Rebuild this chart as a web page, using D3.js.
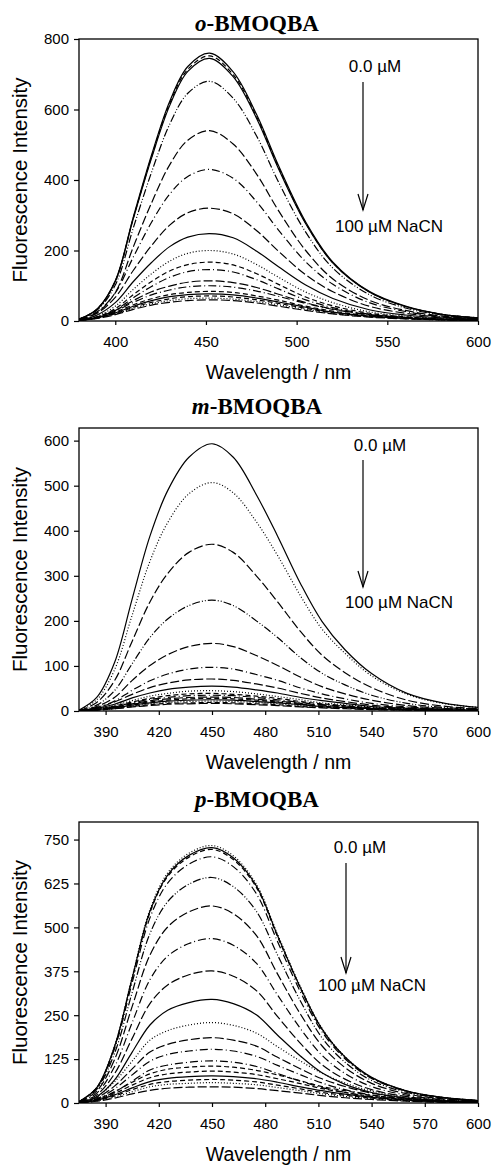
<!DOCTYPE html>
<html>
<head>
<meta charset="utf-8">
<script src="https://cdnjs.cloudflare.com/ajax/libs/d3/7.8.5/d3.min.js"></script>
<style>
  body { margin: 0; background: #fff; }
  svg text { font-family: "Liberation Sans", Arial, sans-serif; fill: #000; }
</style>
</head>
<body>
<div id="vis"></div>
<script>

// ---- o-BMOQBA ----
var oWavelengths = [380, 390, 400, 410, 420, 430, 440, 452, 465, 478, 490, 505, 520, 540, 560, 580, 600];
var oSpectra = [
  [5, 34, 114, 296, 471, 623, 722, 760, 707, 585, 441, 281, 167, 84, 42, 19, 9],
  [5, 34, 113, 293, 466, 617, 714, 752, 699, 579, 436, 278, 165, 83, 41, 19, 9],
  [5, 33, 112, 291, 462, 611, 708, 745, 693, 574, 432, 276, 164, 82, 41, 19, 9],
  [5, 31, 102, 265, 422, 558, 646, 680, 632, 524, 394, 252, 150, 75, 37, 17, 8],
  [4, 24, 81, 211, 335, 443, 513, 540, 502, 416, 313, 200, 119, 59, 30, 14, 6],
  [4, 26, 80, 182, 280, 360, 410, 430, 405, 338, 258, 168, 104, 52, 27, 12, 7],
  [3, 22, 67, 144, 214, 272, 307, 320, 304, 256, 198, 131, 83, 42, 22, 11, 6],
  [2, 17, 52, 112, 166, 211, 238, 248, 236, 198, 154, 102, 64, 32, 17, 9, 5],
  [2, 14, 42, 90, 134, 170, 192, 200, 190, 160, 124, 82, 52, 26, 14, 7, 4],
  [2, 12, 35, 75, 112, 142, 160, 167, 159, 134, 104, 68, 43, 22, 12, 6, 3],
  [1, 10, 31, 66, 98, 124, 140, 146, 139, 117, 91, 60, 38, 19, 10, 5, 3],
  [2, 11, 30, 58, 83, 99, 110, 114, 109, 95, 76, 52, 34, 18, 10, 5, 3],
  [2, 11, 28, 53, 74, 88, 97, 100, 96, 85, 70, 50, 33, 18, 10, 5, 3],
  [2, 10, 25, 46, 63, 75, 81, 84, 81, 71, 59, 42, 28, 15, 8, 4, 3],
  [2, 9, 23, 42, 58, 69, 75, 77, 74, 65, 54, 39, 25, 14, 8, 4, 2],
  [1, 9, 21, 39, 53, 63, 69, 71, 68, 60, 50, 36, 23, 13, 7, 4, 2],
  [1, 8, 20, 36, 49, 58, 63, 65, 62, 55, 46, 33, 21, 12, 7, 3, 2],
  [1, 7, 18, 33, 45, 53, 58, 60, 58, 51, 42, 30, 20, 11, 6, 3, 2]
];
var oStyles = ['solid', 'dash', 'solid', 'dashdotdot', 'longdash', 'dashdot', 'longdash', 'solid', 'dot',
  'dash', 'dashdot', 'longdash', 'dashdot', 'dash', 'solid', 'dash', 'dot', 'longdash'];
var oXTicks = [400, 450, 500, 550, 600];
var oYTicks = [0, 200, 400, 600, 800];

// ---- m-BMOQBA ----
var mWavelengths = [375, 385, 395, 405, 415, 425, 437, 450, 462, 475, 487, 500, 512, 525, 540, 560, 580, 600];
var mSpectra = [
  [2, 30, 107, 249, 388, 489, 563, 593, 563, 480, 388, 282, 199, 136, 83, 39, 18, 8],
  [2, 25, 91, 213, 332, 418, 482, 507, 484, 420, 345, 255, 182, 128, 78, 37, 17, 8],
  [1, 19, 67, 155, 242, 305, 352, 370, 352, 300, 242, 176, 124, 85, 52, 24, 11, 5],
  [1, 13, 45, 105, 163, 204, 234, 246, 234, 200, 163, 118, 84, 58, 35, 17, 8, 4],
  [1, 10, 30, 68, 101, 125, 143, 150, 143, 123, 101, 75, 54, 38, 24, 12, 6, 3],
  [1, 8, 22, 46, 67, 82, 93, 97, 93, 81, 68, 51, 38, 27, 17, 9, 5, 3],
  [1, 7, 20, 37, 52, 62, 69, 71, 68, 60, 51, 39, 29, 21, 13, 7, 4, 2],
  [1, 6, 15, 29, 40, 48, 53, 55, 53, 47, 40, 30, 23, 17, 10, 6, 3, 2],
  [0, 5, 13, 23, 33, 39, 44, 45, 43, 38, 32, 25, 18, 14, 9, 5, 2, 1],
  [0, 4, 11, 20, 28, 34, 38, 39, 37, 33, 28, 21, 16, 12, 7, 4, 2, 1],
  [0, 4, 10, 18, 26, 30, 34, 35, 34, 30, 25, 19, 14, 11, 7, 4, 2, 1],
  [0, 3, 9, 16, 23, 27, 30, 31, 30, 26, 22, 17, 13, 9, 6, 3, 2, 1],
  [0, 3, 8, 15, 20, 24, 27, 28, 27, 24, 20, 15, 11, 8, 5, 3, 1, 1],
  [0, 3, 7, 13, 18, 22, 24, 25, 24, 21, 18, 14, 10, 8, 5, 3, 1, 1],
  [0, 2, 6, 11, 16, 19, 21, 22, 21, 19, 16, 12, 9, 7, 4, 2, 1, 1],
  [0, 2, 5, 10, 14, 17, 18, 19, 18, 16, 14, 10, 8, 6, 4, 2, 1, 1],
  [0, 2, 5, 9, 12, 15, 16, 17, 16, 14, 12, 9, 7, 5, 3, 2, 1, 0]
];
var mStyles = ['solid', 'dot', 'longdash', 'dashdotdot', 'longdash', 'dashdot', 'longdash', 'solid', 'dot',
  'dash', 'dashdot', 'longdash', 'dash', 'solid', 'dot', 'dash', 'longdash'];
var mXTicks = [390, 420, 450, 480, 510, 540, 570, 600];
var mYTicks = [0, 100, 200, 300, 400, 500, 600];

// ---- p-BMOQBA ----
var pWavelengths = [375, 385, 395, 405, 415, 425, 437, 450, 462, 475, 487, 500, 512, 525, 540, 560, 580, 600];
var pSpectra = [
  [4, 44, 161, 359, 550, 655, 711, 733, 704, 623, 480, 330, 213, 132, 73, 34, 16, 7],
  [4, 44, 160, 356, 546, 649, 705, 727, 698, 618, 476, 327, 211, 131, 73, 34, 16, 7],
  [4, 43, 159, 354, 542, 645, 700, 722, 693, 614, 473, 325, 209, 130, 72, 34, 16, 7],
  [4, 42, 154, 343, 527, 626, 680, 701, 673, 596, 459, 315, 203, 126, 70, 33, 15, 7],
  [3, 39, 141, 315, 482, 573, 623, 642, 616, 546, 421, 289, 186, 116, 64, 30, 14, 6],
  [3, 34, 123, 275, 421, 501, 544, 561, 539, 477, 367, 252, 163, 101, 56, 26, 12, 6],
  [2, 28, 103, 229, 351, 418, 454, 468, 449, 398, 307, 211, 136, 84, 47, 22, 10, 5],
  [2, 23, 83, 184, 283, 336, 365, 376, 361, 320, 246, 169, 109, 68, 38, 18, 8, 4],
  [2, 18, 65, 145, 222, 264, 286, 295, 283, 251, 193, 133, 86, 53, 30, 14, 6, 3],
  [2, 18, 60, 119, 179, 206, 222, 229, 221, 199, 160, 119, 85, 57, 34, 17, 8, 4],
  [1, 15, 48, 97, 145, 167, 180, 186, 179, 162, 130, 97, 69, 47, 28, 14, 7, 3],
  [1, 12, 40, 80, 119, 138, 148, 153, 148, 133, 107, 80, 57, 38, 23, 11, 5, 3],
  [1, 10, 31, 62, 94, 108, 116, 120, 116, 104, 84, 62, 44, 30, 18, 9, 4, 2],
  [1, 11, 32, 59, 83, 96, 102, 105, 102, 93, 80, 63, 47, 35, 22, 12, 5, 3],
  [1, 9, 27, 51, 72, 83, 88, 91, 88, 81, 69, 55, 41, 30, 19, 10, 5, 2],
  [1, 8, 23, 43, 61, 70, 75, 77, 75, 69, 59, 46, 35, 25, 16, 8, 4, 2],
  [1, 7, 20, 38, 53, 61, 65, 67, 65, 60, 51, 40, 30, 22, 14, 7, 3, 2],
  [1, 6, 17, 32, 46, 53, 56, 58, 56, 52, 44, 35, 26, 19, 12, 6, 3, 1],
  [0, 5, 14, 26, 36, 42, 45, 46, 45, 41, 35, 28, 21, 15, 10, 5, 2, 1]
];
var pStyles = ['dot', 'solid', 'dash', 'dashdot', 'dashdotdot', 'longdash', 'dashdot', 'longdash', 'solid', 'dot',
  'longdash', 'dashdot', 'dashdot', 'dash', 'dash', 'solid', 'dash', 'dot', 'longdash'];
var pXTicks = [390, 420, 450, 480, 510, 540, 570, 600];
var pYTicks = [0, 125, 250, 375, 500, 625, 750];

var width = 493;
var height = 1167;
var left = 79;
var right = 478;

var dashes = {
  solid: null,
  dot: '1,2',
  dash: '5,3',
  longdash: '9,3',
  dashdot: '8,3,1,3',
  dashdotdot: '8,2,1,2,1,2'
};

var panels = [
  { prefix: 'o', wl: oWavelengths, spectra: oSpectra, styles: oStyles, xDomain: [380, 600], yDomain: [0, 800],
    xTicks: oXTicks, yTicks: oYTicks, top: 39, bottom: 321, titleY: 31,
    arrowX: 363, labelTop: { x: 375, y: 72 }, arrowFrom: 82, arrowTo: 210, labelBottom: { x: 335, y: 232 } },
  { prefix: 'm', wl: mWavelengths, spectra: mSpectra, styles: mStyles, xDomain: [375, 600], yDomain: [0, 628],
    xTicks: mXTicks, yTicks: mYTicks, top: 428, bottom: 711, titleY: 414,
    arrowX: 363, labelTop: { x: 380, y: 451 }, arrowFrom: 460, arrowTo: 587, labelBottom: { x: 345, y: 608 } },
  { prefix: 'p', wl: pWavelengths, spectra: pSpectra, styles: pStyles, xDomain: [375, 600], yDomain: [0, 800],
    xTicks: pXTicks, yTicks: pYTicks, top: 822, bottom: 1103, titleY: 807,
    arrowX: 346, labelTop: { x: 360, y: 853 }, arrowFrom: 863, arrowTo: 973, labelBottom: { x: 318, y: 991 } }
];

var svg = d3.select('#vis')
  .append('svg')
  .attr('width', width)
  .attr('height', height);

function drawPanel(p, i) {
  var x = d3.scaleLinear().domain(p.xDomain).range([left, right]);
  var y = d3.scaleLinear().domain(p.yDomain).range([p.bottom, p.top]);
  var g = svg.append('g');

  g.append('clipPath')
    .attr('id', 'clip' + i)
    .append('rect')
    .attr('x', left)
    .attr('y', p.top)
    .attr('width', right - left)
    .attr('height', p.bottom - p.top);

  var line = d3.line()
    .x(function (d, j) { return x(p.wl[j]); })
    .y(function (d) { return y(d); })
    .curve(d3.curveCatmullRom.alpha(0.5));

  g.append('g')
    .attr('clip-path', 'url(#clip' + i + ')')
    .selectAll('path')
    .data(p.spectra)
    .enter().append('path')
    .attr('d', line)
    .attr('fill', 'none')
    .attr('stroke', '#000')
    .attr('stroke-width', 1.2)
    .attr('stroke-dasharray', function (d, j) { return dashes[p.styles[j]]; });

  // axes
  var xAxis = g.append('g')
    .attr('transform', 'translate(0,' + p.bottom + ')')
    .call(d3.axisBottom(x).tickValues(p.xTicks).tickSize(4).tickPadding(11));
  var yAxis = g.append('g')
    .attr('transform', 'translate(' + left + ',0)')
    .call(d3.axisLeft(y).tickValues(p.yTicks).tickSize(5).tickPadding(5));

  [xAxis, yAxis].forEach(function (a) {
    a.select('.domain').remove();
    a.attr('font-family', null).attr('font-size', 15);
    a.selectAll('line').attr('stroke', '#000').attr('stroke-width', 1.2);
  });

  g.append('rect')
    .attr('x', left)
    .attr('y', p.top)
    .attr('width', right - left)
    .attr('height', p.bottom - p.top)
    .attr('fill', 'none')
    .attr('stroke', '#000')
    .attr('stroke-width', 1.3);

  // title
  var title = g.append('text')
    .attr('x', 257)
    .attr('y', p.titleY)
    .attr('text-anchor', 'middle')
    .style('font-family', '"Liberation Serif", "Times New Roman", serif')
    .attr('font-weight', 'bold')
    .attr('font-size', 23);
  title.append('tspan').attr('font-style', 'italic').text(p.prefix);
  title.append('tspan').text('-BMOQBA');

  g.append('text')
    .attr('x', (left + right) / 2)
    .attr('y', p.bottom + 58)
    .attr('text-anchor', 'middle')
    .attr('font-size', 19.5)
    .text('Wavelength / nm');

  g.append('text')
    .attr('transform', 'translate(27,' + (p.top + p.bottom) / 2 + ') rotate(-90)')
    .attr('text-anchor', 'middle')
    .attr('font-size', 20.5)
    .text('Fluorescence Intensity');

  // arrow annotation
  g.append('text')
    .attr('x', p.labelTop.x)
    .attr('y', p.labelTop.y)
    .attr('text-anchor', 'middle')
    .attr('font-size', 17)
    .text('0.0 \u00b5M');
  g.append('line')
    .attr('x1', p.arrowX).attr('x2', p.arrowX)
    .attr('y1', p.arrowFrom).attr('y2', p.arrowTo)
    .attr('stroke', '#000').attr('stroke-width', 1.2);
  g.append('polyline')
    .attr('points', [[p.arrowX - 5, p.arrowTo - 16], [p.arrowX, p.arrowTo], [p.arrowX + 5, p.arrowTo - 16]].join(' '))
    .attr('fill', 'none')
    .attr('stroke', '#000')
    .attr('stroke-width', 1.2);
  g.append('text')
    .attr('x', p.labelBottom.x)
    .attr('y', p.labelBottom.y)
    .attr('font-size', 17)
    .text('100 \u00b5M NaCN');
}

panels.forEach(drawPanel);

</script>
</body>
</html>
